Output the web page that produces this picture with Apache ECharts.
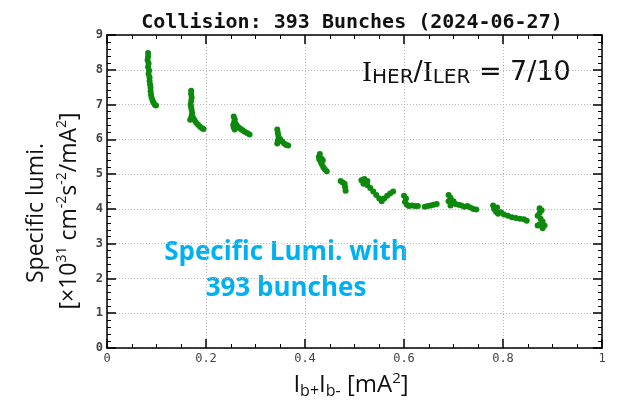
<!DOCTYPE html>
<html>
<head>
<meta charset="utf-8">
<script src="https://cdn.jsdelivr.net/npm/echarts@6/dist/echarts.min.js"></script>
<style>
html,body{margin:0;padding:0;background:#fff;}
#chart{width:621px;height:402px;}
</style>
</head>
<body>
<div id="chart"></div>
<script>
// Ib+ * Ib- [mA^2] and specific luminosity [x10^31 cm^-2 s^-2 / mA^2]
const bunchCurrentProduct = [
  0.083,0.083,0.082,0.084,0.083,0.085,0.084,0.086,0.086,0.087,0.088,0.088,0.089,0.090,0.092,0.094,0.097,0.099,
  0.170,0.170,0.171,0.170,0.169,0.170,0.171,0.172,0.171,0.170,0.168,0.174,0.177,0.180,0.184,0.188,0.192,0.195,
  0.256,0.258,0.257,0.255,0.256,0.258,0.262,0.266,0.270,0.274,0.278,0.283,0.288,0.260,0.263,
  0.344,0.345,0.346,0.347,0.345,0.344,0.350,0.354,0.358,0.362,0.366,
  0.430,0.428,0.429,0.432,0.434,0.437,0.440,0.444,0.433,0.436,
  0.472,0.476,0.480,0.481,0.482,
  0.514,0.520,0.526,0.518,0.526,0.532,0.538,0.544,0.550,0.555,0.560,0.566,0.572,0.578,0.522,
  0.600,0.604,0.602,0.606,0.610,0.616,0.622,0.628,
  0.642,0.648,0.654,0.660,0.666,
  0.690,0.694,0.690,0.696,0.700,0.704,0.710,0.716,0.722,0.728,0.734,0.740,0.746,0.694,
  0.780,0.782,0.786,0.790,0.796,0.802,0.810,0.818,0.826,0.834,0.842,0.848,0.788,
  0.874,0.878,0.874,0.870,0.876,0.880,0.874,0.884,0.880,0.870
];
const specificLumi = [
  8.48,8.38,8.28,8.18,8.08,7.98,7.88,7.78,7.68,7.58,7.48,7.38,7.28,7.20,7.12,7.05,6.99,6.97,
  7.40,7.30,7.20,7.10,7.00,6.92,6.84,6.76,6.68,6.60,6.56,6.62,6.55,6.48,6.42,6.36,6.32,6.30,
  6.66,6.58,6.50,6.42,6.35,6.28,6.40,6.34,6.30,6.26,6.22,6.18,6.14,6.45,6.36,
  6.28,6.20,6.12,6.04,5.96,5.88,6.00,5.94,5.88,5.84,5.82,
  5.58,5.50,5.42,5.35,5.28,5.20,5.14,5.08,5.45,5.40,
  4.80,4.76,4.72,4.62,4.52,
  4.82,4.86,4.80,4.72,4.68,4.60,4.50,4.40,4.30,4.22,4.30,4.38,4.44,4.50,4.76,
  4.38,4.30,4.20,4.12,4.08,4.10,4.08,4.08,
  4.06,4.08,4.10,4.12,4.14,
  4.40,4.32,4.22,4.16,4.22,4.14,4.12,4.10,4.06,4.08,4.04,4.00,3.98,4.10,
  4.10,4.00,3.92,3.86,3.90,3.84,3.80,3.76,3.74,3.72,3.70,3.66,4.04,
  4.02,3.96,3.88,3.80,3.72,3.64,3.56,3.52,3.44,3.52
];
const xTicks = [0, 0.2, 0.4, 0.6, 0.8, 1];
const yTicks = [0, 1, 2, 3, 4, 5, 6, 7, 8, 9];

const titleText = 'Collision: 393 Bunches (2024-06-27)';
const noteText = 'Specific Lumi. with\n393 bunches';

const points = bunchCurrentProduct.map((x, i) => [x, specificLumi[i]]);

const chart = echarts.init(document.getElementById('chart'), null, {renderer: 'canvas'});

const frameLine = {show: true, onZero: false, lineStyle: {color: '#000', width: 1.5}};
const majorTick = {show: true, inside: true, length: 9, lineStyle: {color: '#000', width: 1.5}};
const tickLabelStyle = {fontFamily: 'DejaVu Sans Mono', fontSize: 12, color: '#444'};
const gridDots = {show: true, lineStyle: {type: [1, 2], color: '#b8b8b8', width: 1}};

const uFont = 'Open Sans';

chart.setOption({
  animation: false,
  backgroundColor: '#fff',
  title: {
    text: titleText,
    left: 347, top: 8, textAlign: 'center',
    textStyle: {fontFamily: 'DejaVu Sans Mono', fontWeight: 'bold', fontSize: 20, color: '#111'}
  },
  grid: {left: 107, right: 19, top: 35, bottom: 54, containLabel: false},
  xAxis: [{
    type: 'value', min: xTicks[0], max: xTicks[xTicks.length - 1], interval: 0.2, position: 'bottom',
    axisLine: frameLine, axisTick: majorTick,
    minorTick: {show: true, splitNumber: 4, length: 4, lineStyle: {color: '#000', width: 1}},
    splitLine: gridDots,
    axisLabel: Object.assign({margin: 5, showMinLabel: true, showMaxLabel: true}, tickLabelStyle)
  }, {
    type: 'value', min: xTicks[0], max: xTicks[xTicks.length - 1], interval: 0.2, position: 'top',
    axisLine: frameLine, axisTick: majorTick,
    minorTick: {show: true, splitNumber: 4, length: 4, lineStyle: {color: '#000', width: 1}},
    splitLine: {show: false}, axisLabel: {show: false}
  }],
  yAxis: [{
    type: 'value', min: yTicks[0], max: yTicks[yTicks.length - 1], interval: 1, position: 'left',
    axisLine: frameLine, axisTick: majorTick,
    minorTick: {show: true, splitNumber: 5, length: 4, lineStyle: {color: '#000', width: 1}},
    splitLine: gridDots,
    axisLabel: Object.assign({margin: 4, showMinLabel: true, showMaxLabel: true, fontWeight: 'bold'}, tickLabelStyle)
  }, {
    type: 'value', min: yTicks[0], max: yTicks[yTicks.length - 1], interval: 1, position: 'right',
    axisLine: frameLine, axisTick: majorTick,
    minorTick: {show: true, splitNumber: 5, length: 4, lineStyle: {color: '#000', width: 1}},
    splitLine: {show: false}, axisLabel: {show: false}
  }],
  series: [{
    type: 'scatter', xAxisIndex: 0, yAxisIndex: 0,
    data: points, symbol: 'circle', symbolSize: 6,
    itemStyle: {color: '#0d8a0d', opacity: 1}
  }],
  graphic: [
    {
      type: 'text', x: 36, y: 213, rotation: Math.PI / 2, silent: true,
      style: {text: 'Specific lumi.', fontFamily: uFont, fontSize: 23, fill: '#111', align: 'center', verticalAlign: 'middle'}
    },
    {
      type: 'text', x: 69, y: 211, rotation: Math.PI / 2, silent: true,
      style: {
        text: '{n|[×10}{s|31}{n| cm}{s|-2}{n|s}{s|-2}{n|/mA}{s|2}{n|]}',
        align: 'center', verticalAlign: 'middle',
        rich: {
          n: {fontFamily: uFont, fontSize: 23, lineHeight: 28, fill: '#111', verticalAlign: 'middle'},
          s: {fontFamily: uFont, fontSize: 14, lineHeight: 14, fill: '#111', verticalAlign: 'top'}
        }
      }
    },
    {
      type: 'text', x: 351, y: 385, silent: true,
      style: {
        text: '{n|I}{b|b+}{n|I}{b|b-}{n| [mA}{s|2}{n|]}',
        align: 'center', verticalAlign: 'middle',
        rich: {
          n: {fontFamily: uFont, fontSize: 24, lineHeight: 28, fill: '#111', verticalAlign: 'middle'},
          s: {fontFamily: uFont, fontSize: 15, lineHeight: 14, fill: '#111', verticalAlign: 'top'},
          b: {fontFamily: uFont, fontSize: 16, lineHeight: 15, fill: '#111', verticalAlign: 'bottom'}
        }
      }
    },
    {
      type: 'text', x: 362, y: 73, silent: true,
      style: {
        text: '{i|I}{h|HER}{m|/}{i|I}{h|LER}{m| = 7/10}',
        align: 'left', verticalAlign: 'middle',
        rich: {
          i: {fontFamily: 'Liberation Serif', fontSize: 30, lineHeight: 30, fill: '#111', verticalAlign: 'middle'},
          h: {fontFamily: 'DejaVu Sans', fontSize: 20, lineHeight: 23, fill: '#111', verticalAlign: 'bottom'},
          m: {fontFamily: 'DejaVu Sans', fontSize: 27, lineHeight: 30, fill: '#111', verticalAlign: 'middle'}
        }
      }
    },
    {
      type: 'text', x: 286, y: 271, silent: true,
      style: {
        text: noteText, align: 'center', verticalAlign: 'middle',
        fontFamily: uFont, fontWeight: 'bold', fontSize: 26, lineHeight: 36, fill: '#00b0f0'
      }
    }
  ]
});
</script>
</body>
</html>
